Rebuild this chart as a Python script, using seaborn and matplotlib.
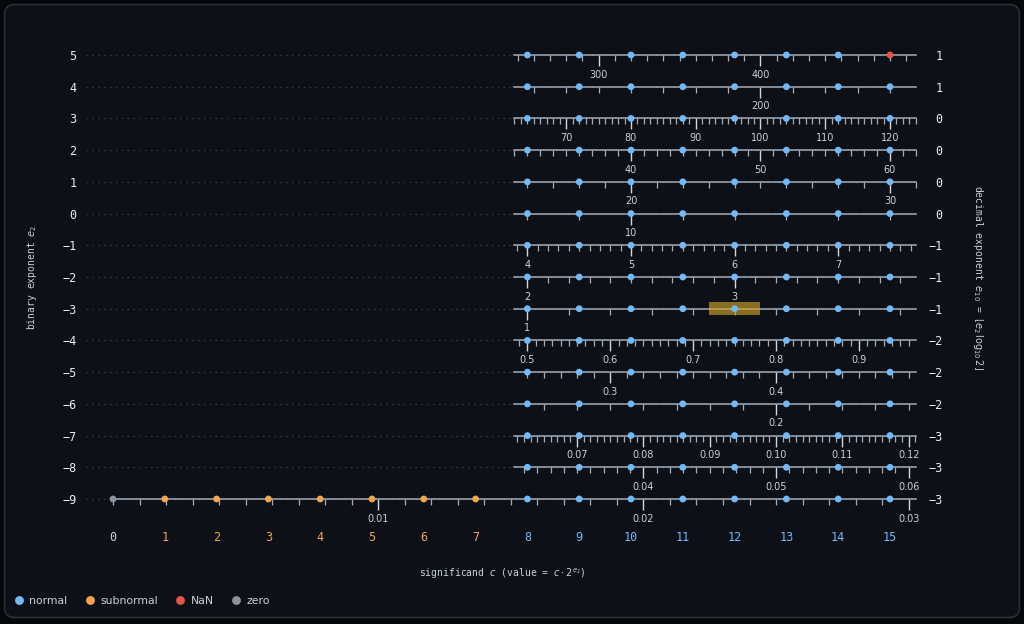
import numpy as np
import pandas as pd
import matplotlib
matplotlib.use("Agg")
import matplotlib.pyplot as plt
from matplotlib.patches import FancyBboxPatch, Rectangle
import seaborn as sns

# ---------------- data ----------------
exponents = [-9, -8, -7, -6, -5, -4, -3, -2, -1, 0, 1, 2, 3, 4, 5]          # binary exponent e2 (rows)
decimal_exponents = [-3, -3, -3, -2, -2, -2, -1, -1, -1, 0, 0, 0, 0, 1, 1]   # right axis labels
normal_significands = [8, 9, 10, 11, 12, 13, 14, 15]
subnormal_significands = [1, 2, 3, 4, 5, 6, 7]
subnormal_exponent = -9
zero_point = (0, -9)
nan_point = (15, 5)
highlight_point = (12, -3)
x_tick_values = list(range(16))

row_major_labels = {
    5: ["300", "400"],
    4: ["200"],
    3: ["70", "80", "90", "100", "110", "120"],
    2: ["40", "50", "60"],
    1: ["20", "30"],
    0: ["10"],
    -1: ["4", "5", "6", "7"],
    -2: ["2", "3"],
    -3: ["1"],
    -4: ["0.5", "0.6", "0.7", "0.8", "0.9"],
    -5: ["0.3", "0.4"],
    -6: ["0.2"],
    -7: ["0.07", "0.08", "0.09", "0.10", "0.11", "0.12"],
    -8: ["0.04", "0.05", "0.06"],
    -9: ["0.01", "0.02", "0.03"],
}

kind_order = ["normal", "subnormal", "NaN", "zero"]
kind_colors = {"normal": "#72b9f7", "subnormal": "#f2a54a", "NaN": "#e5534b", "zero": "#8b949e"}

# ---------------- build table ----------------
recs = []
for e in exponents:
    for c in normal_significands:
        kind = "NaN" if (c, e) == nan_point else "normal"
        recs.append({"c": c, "e2": e, "kind": kind})
for c in subnormal_significands:
    recs.append({"c": c, "e2": subnormal_exponent, "kind": "subnormal"})
recs.append({"c": zero_point[0], "e2": zero_point[1], "kind": "zero"})
df = pd.DataFrame(recs)

# ---------------- style ----------------
BG = "#0d1117"
TEXT = "#c9d1d9"
LINE = "#a3acb8"
sns.set_style("dark", {"axes.facecolor": "none", "figure.facecolor": "#05070a"})
plt.rcParams["font.family"] = ["DejaVu Sans Mono", "DejaVu Sans"]
plt.rcParams["axes.unicode_minus"] = True

W, H = 1024, 624
fig = plt.figure(figsize=(W / 100, H / 100), dpi=100)
fig.patch.set_facecolor("#05070a")
card = FancyBboxPatch((4.5, 6.5), 1015, 613, boxstyle="round,pad=0,rounding_size=10",
                      transform=None, facecolor=BG, edgecolor="#2a3038", lw=1.2, zorder=-5)
fig.add_artist(card)

ax_l, ax_r, ax_t, ax_b = 86, 918, 40, 515
ax = fig.add_axes([ax_l / W, 1 - ax_b / H, (ax_r - ax_l) / W, (ax_b - ax_t) / H])
ax.set_facecolor("none")

px_per_c = (890 - 113) / 15.0
px_per_e = (499 - 55) / 14.0
x0 = -(113 - ax_l) / px_per_c
x1 = (ax_r - 113) / px_per_c
y0 = -9 - (ax_b - 499) / px_per_e
y1 = 5 + (55 - ax_t) / px_per_e
ax.set_xlim(x0, x1)
ax.set_ylim(y0, y1)

sns.scatterplot(data=df, x="c", y="e2", hue="kind", hue_order=kind_order,
                palette=kind_colors, s=24, linewidth=0, ax=ax, zorder=4)

# highlight box
hx, hy = highlight_point
ax.add_patch(Rectangle((hx - 0.5, hy - 0.2), 1.0, 0.4, facecolor="#d4a72c", alpha=0.62,
                       linewidth=0, zorder=3))

for sp in ax.spines.values():
    sp.set_visible(False)
ax.set_xticks(x_tick_values)
ax.set_xticklabels([str(v) for v in x_tick_values])
ax.set_yticks(exponents)
ax.set_yticklabels([str(v).replace("-", "\u2212") for v in exponents])
ax.tick_params(axis="x", length=0, pad=11.5, labelsize=8.5)
ax.tick_params(axis="y", length=0, pad=7, labelsize=8.5, labelcolor="#e6edf3")
for lbl, v in zip(ax.get_xticklabels(), x_tick_values):
    if v == zero_point[0]:
        lbl.set_color("#c9d1d9")
    elif v in subnormal_significands:
        lbl.set_color(kind_colors["subnormal"])
    else:
        lbl.set_color(kind_colors["normal"])
ax.grid(False)
ax.grid(axis="y", linestyle=(0, (1.2, 3.5)), color="#333a44", linewidth=0.9)
ax.set_xlabel("")
ax.set_ylabel("")

# right axis: decimal exponent
ax2 = ax.twinx()
ax2.set_facecolor("none")
ax2.set_ylim(y0, y1)
ax2.set_yticks(exponents)
ax2.set_yticklabels([str(v).replace("-", "\u2212") for v in decimal_exponents])
ax2.tick_params(axis="y", length=0, pad=17.5, labelsize=8.5, labelcolor="#e6edf3")
for lbl in ax2.get_yticklabels():
    lbl.set_horizontalalignment("right")
for sp in ax2.spines.values():
    sp.set_visible(False)
ax2.grid(False)

# per-row value axes
for e in exponents:
    s = 2.0 ** e
    pos = (e - y0) / (y1 - y0)
    sec = ax.secondary_xaxis(pos, functions=(lambda c, s=s: c * s, lambda v, s=s: v / s))
    sec.set_alignment("bottom")
    sec.set_zorder(1)
    sec.patch.set_visible(False)
    lo = (0.0 if e == subnormal_exponent else 7.75) * s
    hi = 15.5 * s
    sec.spines["bottom"].set_bounds(lo, hi)
    sec.spines["bottom"].set_color(LINE)
    sec.spines["bottom"].set_linewidth(1.1)
    sec.spines["top"].set_visible(False)
    labels = row_major_labels[e]
    majors = [float(t) for t in labels]
    step = 10.0 ** decimal_exponents[exponents.index(e)]
    k0 = int(np.ceil(lo / step - 1e-9))
    k1 = int(np.floor(hi / step + 1e-9))
    minors = [round(k * step, 6) for k in range(k0, k1 + 1)]
    minors = [m for m in minors if all(abs(m - M) > step * 1e-3 for M in majors)]
    sec.set_ticks(majors, labels=labels)
    sec.set_ticks(minors, minor=True)
    sec.tick_params(axis="x", which="major", direction="out", length=8, width=1.0,
                    color="#d0d7de", labelsize=7, labelcolor=TEXT, pad=2.5,
                    labelfontfamily="DejaVu Sans")
    sec.tick_params(axis="x", which="minor", direction="out", length=4, width=0.9,
                    color=LINE)

# axis labels
fig.text((ax_l + ax_r) / 2 / W, 1 - 574 / H, "significand $c$ (value = $c \\cdot 2^{e_2}$)",
         ha="center", va="center", fontsize=7, color=TEXT)
fig.text(32 / W, 1 - (ax_t + ax_b) / 2 / H, "binary exponent $e_2$", rotation=90,
         ha="center", va="center", fontsize=7, color=TEXT)
fig.text(978 / W, 1 - (ax_t + ax_b) / 2 / H,
         "decimal exponent $e_{10}$ = $\\lfloor e_2\\,\\log_{10}2\\rfloor$", rotation=270,
         ha="center", va="center", fontsize=7, color=TEXT)

# legend
sns.move_legend(ax, "center left", bbox_to_anchor=(12 / W, 1 - 601 / H),
                bbox_transform=fig.transFigure, ncol=4, frameon=False, title=None,
                borderaxespad=0, borderpad=0, handlelength=1.2,
                handletextpad=0.35, columnspacing=1.5, markerscale=1.3,
                prop={"family": "DejaVu Sans", "size": 7.8}, labelcolor=TEXT)

fig.savefig("out.png", dpi=100, facecolor=fig.get_facecolor())
